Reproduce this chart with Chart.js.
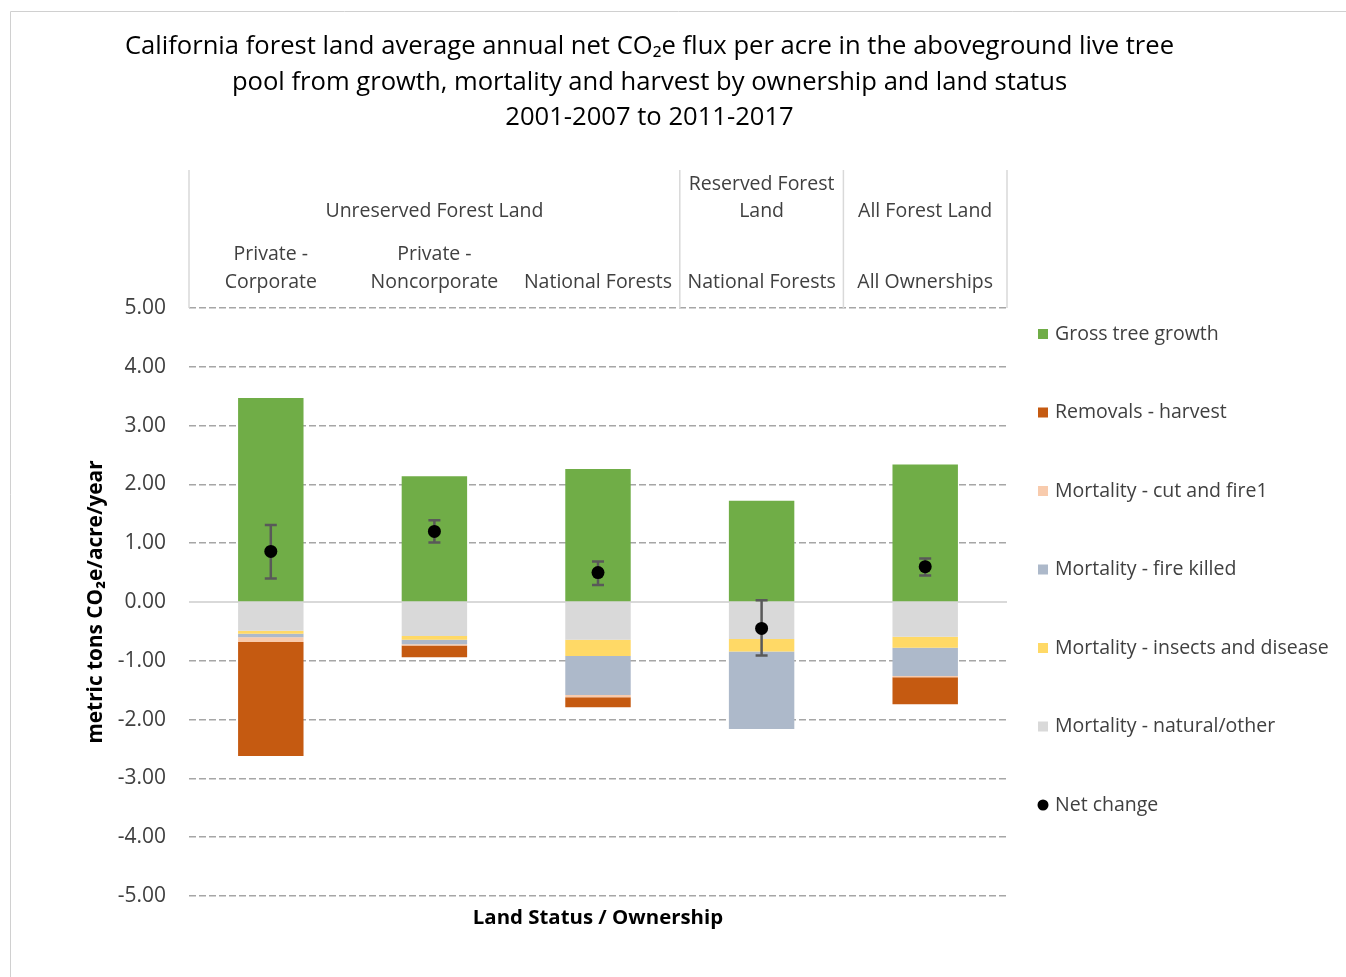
<!DOCTYPE html>
<html>
<head>
<meta charset="utf-8">
<script src="https://cdn.jsdelivr.net/npm/chart.js@4/dist/chart.umd.min.js"></script>
<style>
  html, body { margin: 0; padding: 0; background: #fff; overflow: hidden; }
  canvas { display: block; }
</style>
</head>
<body>
<canvas id="c" width="1346" height="977"></canvas>
<script>
// ---------- data ----------
const categories = [['Private -', 'Corporate'], ['Private -', 'Noncorporate'], 'National Forests', 'National Forests', 'All Ownerships'];
const groupLabels = ['Unreserved Forest Land', ['Reserved Forest', 'Land'], 'All Forest Land'];
const groupSpans = [3, 1, 1];

const grossGrowth = [3.47, 2.14, 2.26, 1.72, 2.34];
const mortNatural = [-0.49, -0.58, -0.64, -0.63, -0.59];
const mortInsects = [-0.05, -0.06, -0.28, -0.21, -0.19];
const mortFire = [-0.06, -0.08, -0.66, -1.32, -0.48];
const mortCutFire = [-0.08, -0.02, -0.04, 0, -0.02];
const removalsHarvest = [-1.94, -0.20, -0.17, 0, -0.46];
const netChange = [0.86, 1.20, 0.50, -0.45, 0.60];
const netLow = [0.40, 1.01, 0.29, -0.91, 0.45];
const netHigh = [1.31, 1.39, 0.69, 0.03, 0.74];

const legendOrder = ['Gross tree growth', 'Removals - harvest', 'Mortality - cut and fire1', 'Mortality - fire killed', 'Mortality - insects and disease', 'Mortality - natural/other', 'Net change'];

const FONT = '"Open Sans", Lato, "Liberation Sans", sans-serif';
Chart.defaults.font.family = FONT;
const LABEL_SIZE = 19.5;

// ---------- plugins ----------
const framePlugin = {
  id: 'frame',
  beforeDraw(chart) {
    const ctx = chart.ctx;
    ctx.save();
    ctx.strokeStyle = '#D0D0D0';
    ctx.lineWidth = 1;
    ctx.beginPath();
    ctx.moveTo(10.5, chart.height);
    ctx.lineTo(10.5, 11.5);
    ctx.lineTo(chart.width, 11.5);
    ctx.stroke();
    ctx.restore();
  }
};

const zeroLinePlugin = {
  id: 'zeroLine',
  beforeDatasetsDraw(chart) {
    const y = chart.scales.y.getPixelForValue(0);
    const a = chart.chartArea;
    const ctx = chart.ctx;
    ctx.save();
    ctx.strokeStyle = '#D9D9D9';
    ctx.lineWidth = 2;
    ctx.beginPath();
    ctx.moveTo(a.left, y);
    ctx.lineTo(a.right, y);
    ctx.stroke();
    ctx.restore();
  }
};

const errorBarPlugin = {
  id: 'errorBars',
  beforeDatasetDraw(chart, args) {
    const ds = chart.data.datasets[args.index];
    if (ds.label !== 'Net change') return;
    const xs = chart.scales.x, ys = chart.scales.y;
    const ctx = chart.ctx;
    ctx.save();
    ctx.strokeStyle = '#595959';
    ctx.lineWidth = 2.5;
    for (let i = 0; i < netLow.length; i++) {
      const x = xs.getPixelForValue(i);
      const y1 = ys.getPixelForValue(netLow[i]);
      const y2 = ys.getPixelForValue(netHigh[i]);
      ctx.beginPath();
      ctx.moveTo(x, y1); ctx.lineTo(x, y2);
      ctx.moveTo(x - 6, y1); ctx.lineTo(x + 6, y1);
      ctx.moveTo(x - 6, y2); ctx.lineTo(x + 6, y2);
      ctx.stroke();
    }
    ctx.restore();
  }
};

const groupPlugin = {
  id: 'groups',
  afterDraw(chart) {
    const xs = chart.scales.x;
    const ctx = chart.ctx;
    const half = (xs.getPixelForValue(1) - xs.getPixelForValue(0)) / 2;
    const top = xs.top, bottom = xs.bottom;
    ctx.save();
    ctx.strokeStyle = '#D9D9D9';
    ctx.lineWidth = 1.5;
    ctx.fillStyle = '#404040';
    ctx.font = LABEL_SIZE + 'px ' + FONT;
    ctx.textAlign = 'center';
    ctx.textBaseline = 'middle';
    let start = 0;
    const edges = [xs.getPixelForValue(0) - half];
    groupSpans.forEach((span, g) => {
      const left = xs.getPixelForValue(start) - half;
      const right = xs.getPixelForValue(start + span - 1) + half;
      edges.push(right);
      const cx = (left + right) / 2;
      const lines = Array.isArray(groupLabels[g]) ? groupLabels[g] : [groupLabels[g]];
      const lastY = top + 41;
      lines.forEach((t, k) => {
        ctx.fillText(t, cx, lastY - (lines.length - 1 - k) * 27);
      });
      start += span;
    });
    edges.forEach(e => {
      ctx.beginPath();
      ctx.moveTo(e, top);
      ctx.lineTo(e, bottom);
      ctx.stroke();
    });
    ctx.restore();
  }
};

const legendPlugin = {
  id: 'customLegend',
  afterDraw(chart) {
    const ctx = chart.ctx;
    const x0 = chart.chartArea.right + 31;
    const y0 = 334;
    const step = 78.5;
    ctx.save();
    ctx.font = LABEL_SIZE + 'px ' + FONT;
    ctx.textBaseline = 'middle';
    ctx.textAlign = 'left';
    legendOrder.forEach((lbl, i) => {
      const ds = chart.data.datasets.find(d => d.label === lbl);
      const y = y0 + i * step;
      if (ds.type === 'line') {
        ctx.fillStyle = ds.pointBackgroundColor;
        ctx.beginPath();
        ctx.arc(x0 + 5, y, 5.5, 0, Math.PI * 2);
        ctx.fill();
      } else {
        ctx.fillStyle = ds.backgroundColor;
        ctx.fillRect(x0, y - 5, 10, 10);
      }
      ctx.fillStyle = '#404040';
      ctx.fillText(lbl, x0 + 17, y);
    });
    ctx.restore();
  }
};

// ---------- chart ----------
function barDs(label, data, color) {
  return { type: 'bar', label, data, backgroundColor: color, borderWidth: 0,
           xAxisID: 'x', yAxisID: 'y', barPercentage: 0.4, categoryPercentage: 1.0, order: 2 };
}

new Chart(document.getElementById('c'), {
  data: {
    labels: categories,
    datasets: [
      barDs('Gross tree growth', grossGrowth, '#70AD47'),
      barDs('Mortality - natural/other', mortNatural, '#D9D9D9'),
      barDs('Mortality - insects and disease', mortInsects, '#FFD966'),
      barDs('Mortality - fire killed', mortFire, '#ADB9CA'),
      barDs('Mortality - cut and fire1', mortCutFire, '#F8CBAD'),
      barDs('Removals - harvest', removalsHarvest, '#C55A11'),
      { type: 'line', label: 'Net change', data: netChange, showLine: false,
        pointRadius: 6.5, pointBackgroundColor: '#000000', pointBorderColor: '#000000',
        pointBorderWidth: 0, xAxisID: 'x', yAxisID: 'y', order: 0 }
    ]
  },
  options: {
    responsive: false,
    animation: false,
    events: [],
    layout: { padding: { top: 10, left: 10, right: 57, bottom: 20 } },
    plugins: {
      legend: { display: false },
      tooltip: { enabled: false },
      title: {
        display: true,
        text: ['California forest land average annual net CO\u2082e flux per acre in the aboveground live tree',
               'pool from growth, mortality and harvest by ownership and land status',
               '2001-2007 to 2011-2017'],
        color: '#000000',
        font: { size: 25.6, weight: 'normal', lineHeight: 35.5 / 25.6 },
        padding: { top: 19, bottom: 34.5 }
      }
    },
    scales: {
      x: {
        type: 'category',
        position: 'top',
        stacked: true,
        offset: true,
        grid: { display: false, drawTicks: false },
        border: { display: false },
        ticks: { color: '#404040', font: { size: LABEL_SIZE, lineHeight: 28 / LABEL_SIZE }, padding: 12,
                 maxRotation: 0, minRotation: 0, autoSkip: false },
        afterFit(s) { s.height = 138; }
      },
      x2: {
        type: 'category',
        position: 'bottom',
        grid: { display: false, drawTicks: false },
        border: { display: false },
        ticks: { display: false },
        title: { display: true, text: 'Land Status / Ownership', color: '#000000',
                 font: { size: 20.4, weight: 'bold', lineHeight: 1.2 }, padding: { top: 0, bottom: 26.6 } },
        afterFit(s) { s.height = 61; }
      },
      y: {
        type: 'linear',
        position: 'left',
        stacked: true,
        min: -5, max: 5,
        grid: {
          drawTicks: false,
          color: c => (c.tick && c.tick.value === 0) ? 'rgba(0,0,0,0)' : '#A6A6A6',
          lineWidth: 1.5
        },
        border: { display: false, dash: [7, 3] },
        ticks: { stepSize: 1, color: '#404040', font: { size: 21 }, padding: 23,
                 callback: v => Number(v).toFixed(2) },
        title: { display: true, text: 'metric tons CO\u2082e/acre/year', color: '#000000',
                 font: { size: 20.8, weight: 'bold', lineHeight: 1.2 }, padding: { top: 73.5, bottom: 0 } },
        afterFit(s) { s.width = 179; }
      },
      yR: {
        type: 'linear',
        position: 'right',
        grid: { display: false, drawTicks: false },
        border: { display: false },
        ticks: { display: false },
        afterFit(s) { s.width = 282; }
      }
    }
  },
  plugins: [framePlugin, zeroLinePlugin, errorBarPlugin, groupPlugin, legendPlugin]
});
</script>
</body>
</html>
